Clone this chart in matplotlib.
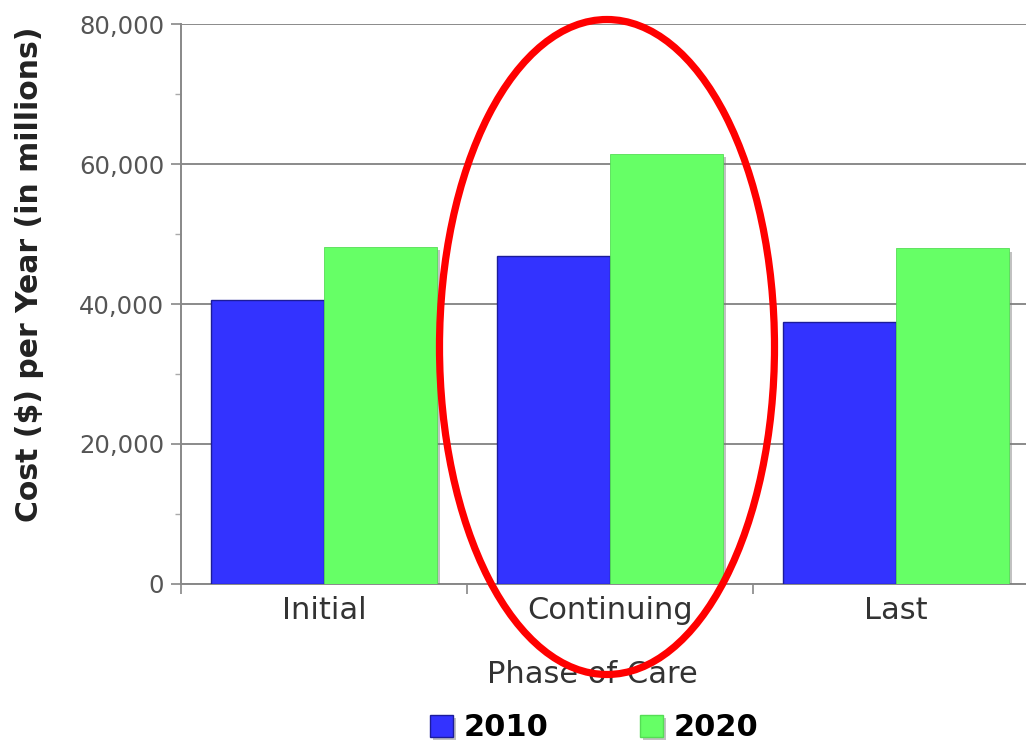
import matplotlib
matplotlib.use("Agg")
import matplotlib.pyplot as plt
import matplotlib.patheffects as pe
from matplotlib.patches import Ellipse, Patch
from matplotlib.ticker import FixedLocator, FuncFormatter

# Annual cost of cancer care by phase (millions of dollars)
phases = ["Initial", "Continuing", "Last"]
years = ["2010", "2020"]
cost_2010 = [40600, 46800, 37400]
cost_2020 = [48200, 61500, 48000]
y_ticks = [0, 20000, 40000, 60000, 80000]

blue = "#3333ff"
green = "#66ff66"

plt.rcParams["font.family"] = ["DejaVu Sans"]

fig = plt.figure(figsize=(10.26, 7.45), dpi=100)
ax = fig.add_axes([0.1764, 0.2164, 0.8363, 0.751])

shadow = [pe.SimplePatchShadow(offset=(2.5, -2.5), shadow_rgbFace="#777777", alpha=0.45), pe.Normal()]

bar_w = 0.395
centers = [i + 0.5 for i in range(len(phases))]
b1 = ax.bar([c - bar_w / 2 for c in centers], cost_2010, width=bar_w,
            color=blue, edgecolor="#1c1c9a", linewidth=1.0, zorder=3)
b2 = ax.bar([c + bar_w / 2 for c in centers], cost_2020, width=bar_w,
            color=green, edgecolor="#55dd55", linewidth=0.6, zorder=3)
for bars in (b1, b2):
    for r in bars:
        r.set_path_effects(shadow)

ax.set_xlim(0, 3)
ax.set_ylim(0, 80000)

# y axis: major ticks with thousands separators, minor ticks between
ax.yaxis.set_major_locator(FixedLocator(y_ticks))
ax.yaxis.set_minor_locator(FixedLocator([10000, 30000, 50000, 70000]))
ax.yaxis.set_major_formatter(FuncFormatter(lambda v, p: f"{int(v):,}"))
ax.tick_params(axis="y", which="major", length=7, width=1.2, color="#888888",
               labelsize=17.5, labelcolor="#555555", pad=5)
ax.tick_params(axis="y", which="minor", length=4, width=1.0, color="#aaaaaa")

# x axis: category labels centred, tick marks on category boundaries
ax.xaxis.set_major_locator(FixedLocator(centers))
ax.set_xticklabels(phases)
ax.xaxis.set_minor_locator(FixedLocator([0, 1, 2, 3]))
ax.tick_params(axis="x", which="major", length=0, labelsize=22, labelcolor="#333333", pad=9)
ax.tick_params(axis="x", which="minor", length=7, width=1.2, color="#888888")

ax.grid(axis="y", which="major", color="#8a8a8a", linewidth=1.4, zorder=0)
ax.set_axisbelow(True)
for s in ("top", "right"):
    ax.spines[s].set_visible(False)
ax.spines["left"].set_color("#888888")
ax.spines["left"].set_linewidth(1.4)
ax.spines["bottom"].set_color("#888888")
ax.spines["bottom"].set_linewidth(1.4)

ylab = ax.set_ylabel("Cost ($) per Year (in millions)", fontsize=21.5, fontweight="bold",
                     color="#222222")
ylab.set_rotation_mode("default")
ylab.set_va("center")
ax.yaxis.set_label_coords(-0.176, 0.554)

xlab = ax.set_xlabel("Phase of Care", fontsize=22, color="#333333")
xlab.set_va("center")
ax.xaxis.set_label_coords(0.479, -0.162)

handles = [Patch(facecolor=blue, edgecolor="#1c1c9a", label=years[0]),
           Patch(facecolor=green, edgecolor="#55dd55", label=years[1])]
leg = fig.legend(handles=handles, loc="center", bbox_to_anchor=(0.579, 0.023),
                 ncol=2, frameon=False, prop={"size": 22, "weight": "bold"},
                 handlelength=0.75, handleheight=0.75, handletextpad=0.35,
                 columnspacing=3.0)
for h in leg.legend_handles:
    h.set_path_effects(shadow)

# red highlight around the middle category
highlight = Ellipse((607 / 1026, 1 - 347 / 745), 335 / 1026, 655 / 745,
                    transform=fig.transFigure, fill=False, edgecolor="#ff0000",
                    linewidth=5.2, zorder=10, clip_on=False)
fig.add_artist(highlight)

fig.savefig("out.png", dpi=100, facecolor="white")
